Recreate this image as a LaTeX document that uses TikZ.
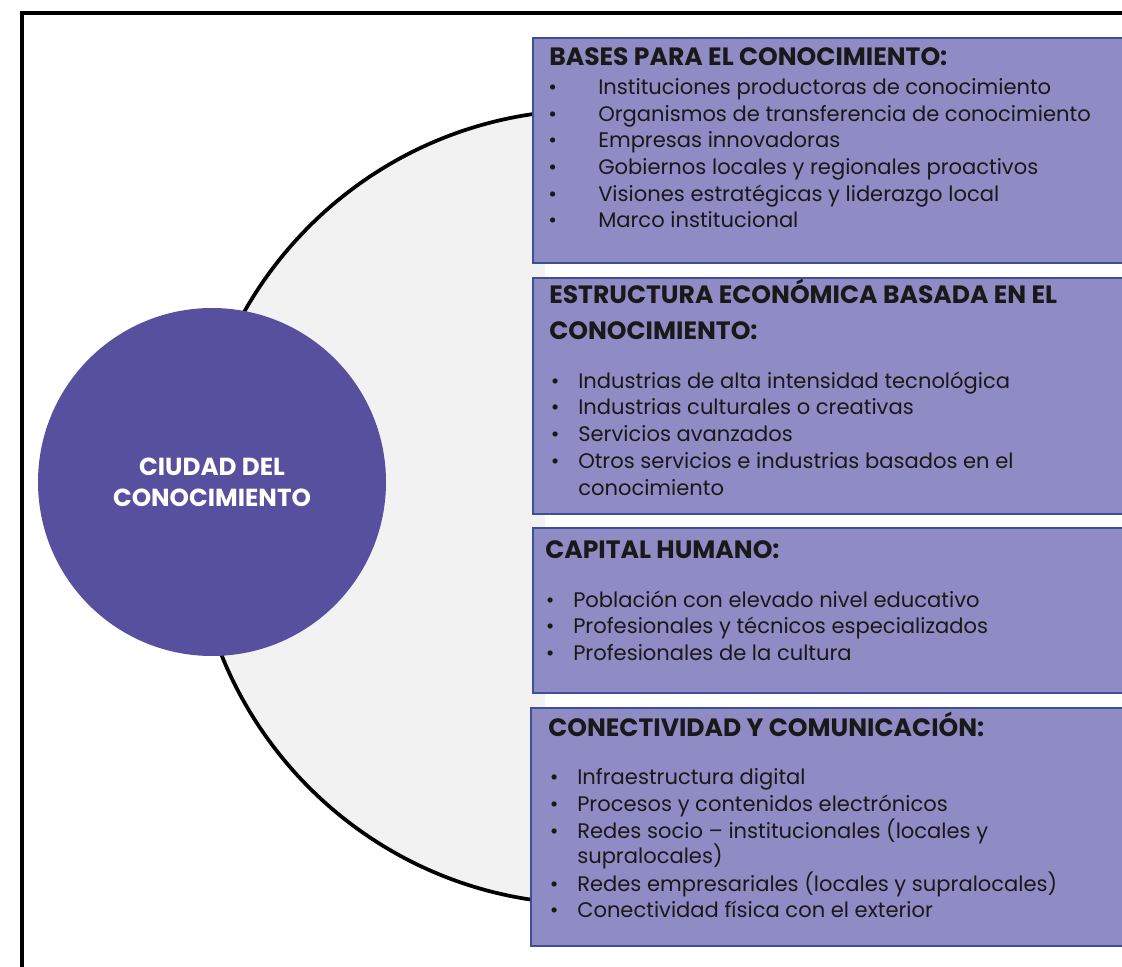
\documentclass[tikz,border=0pt]{standalone}
\usepackage{fontspec}
\setmainfont{Poppins}
\definecolor{boxfill}{RGB}{143,139,196}
\definecolor{boxline}{RGB}{62,78,152}
\definecolor{cityfill}{RGB}{86,80,158}
\definecolor{ringfill}{RGB}{242,242,242}
\definecolor{inktext}{RGB}{25,25,25}
\newcommand{\blt}[1]{\llap{\textbullet\hspace{#1}}}
\begin{document}
\begin{tikzpicture}
        [x=0.75pt, y=-0.75pt,
         frame_style/.style={draw=black, line width=2.8pt},
         ring_style/.style={draw=black, line width=2.8pt, fill=ringfill},
         city_style/.style={circle, fill=cityfill, minimum size=261pt, inner sep=0pt,
                            text=white, align=center, font=\fontsize{18.5}{23}\selectfont\bfseries},
         box_style/.style={draw=boxline, line width=1.3pt, fill=boxfill, anchor=north west,
                           minimum width=460pt, inner sep=0pt},
         title_style/.style={anchor=mid west, inner sep=0pt, text=inktext,
                             font=\fontsize{18.8}{22}\selectfont\bfseries},
         item_style/.style={anchor=mid west, inner sep=0pt, text=inktext,
                            font=\fontsize{15.8}{19}\selectfont}]
            \useasboundingbox (0,0) rectangle (1122,967);
            \clip (0,0) rectangle (1122,967);
            % outer frame
            \draw[frame_style] (22,980) -- (22,13) -- (1130,13);
            % grey half ring behind the boxes
            \begin{scope}
                \clip (0,0) rectangle (545,967);
                \draw[ring_style] (590,507) circle[radius=397];
            \end{scope}
            \node[city_style] (city) at (212,482) {CIUDAD DEL\\CONOCIMIENTO};
            % boxes
            \node[box_style, minimum height=168.75pt] (bases) at (532,37) {};
            \node[box_style, minimum height=177pt] (estructura) at (532,277) {};
            \node[box_style, minimum height=123.75pt] (capital) at (532,527) {};
            \node[box_style, minimum height=178.5pt] (conectividad) at (530,707) {};
            % bases para el conocimiento
            \node[title_style] (bases_t) at (549,62) {BASES PARA EL CONOCIMIENTO:};
            \node[item_style] (bases_1) at (598,91) {\blt{31pt}Instituciones productoras de conocimiento};
            \node[item_style] (bases_2) at (598,118) {\blt{31pt}Organismos de transferencia de conocimiento};
            \node[item_style] (bases_3) at (598,144) {\blt{31pt}Empresas innovadoras};
            \node[item_style] (bases_4) at (598,171) {\blt{31pt}Gobiernos locales y regionales proactivos};
            \node[item_style] (bases_5) at (598,198) {\blt{31pt}Visiones estratégicas y liderazgo local};
            \node[item_style] (bases_6) at (598,224) {\blt{31pt}Marco institucional};
            % estructura economica
            \node[title_style] (estructura_t1) at (549,300) {ESTRUCTURA ECONÓMICA BASADA EN EL};
            \node[title_style] (estructura_t2) at (549,336) {CONOCIMIENTO:};
            \node[item_style] (estructura_1) at (578,385) {\blt{14pt}Industrias de alta intensidad tecnológica};
            \node[item_style] (estructura_2) at (578,411) {\blt{14pt}Industrias culturales o creativas};
            \node[item_style] (estructura_3) at (578,438) {\blt{14pt}Servicios avanzados};
            \node[item_style] (estructura_4) at (578,465) {\blt{14pt}Otros servicios e industrias basados en el};
            \node[item_style] (estructura_4b) at (578,492) {conocimiento};
            % capital humano
            \node[title_style] (capital_t) at (545,555) {CAPITAL HUMANO:};
            \node[item_style] (capital_1) at (573,604) {\blt{14pt}Población con elevado nivel educativo};
            \node[item_style] (capital_2) at (573,630) {\blt{14pt}Profesionales y técnicos especializados};
            \node[item_style] (capital_3) at (573,657) {\blt{14pt}Profesionales de la cultura};
            % conectividad y comunicacion
            \node[title_style] (conectividad_t) at (548,733) {CONECTIVIDAD Y COMUNICACIÓN:};
            \node[item_style] (conectividad_1) at (577,781) {\blt{14pt}Infraestructura digital};
            \node[item_style] (conectividad_2) at (577,808) {\blt{14pt}Procesos y contenidos electrónicos};
            \node[item_style] (conectividad_3) at (577,835) {\blt{14pt}Redes socio -- institucionales (locales y};
            \node[item_style] (conectividad_3b) at (577,860) {supralocales)};
            \node[item_style] (conectividad_4) at (577,888) {\blt{14pt}Redes empresariales (locales y supralocales)};
            \node[item_style] (conectividad_5) at (577,914) {\blt{14pt}Conectividad física con el exterior};
        \end{tikzpicture}
\end{document}
